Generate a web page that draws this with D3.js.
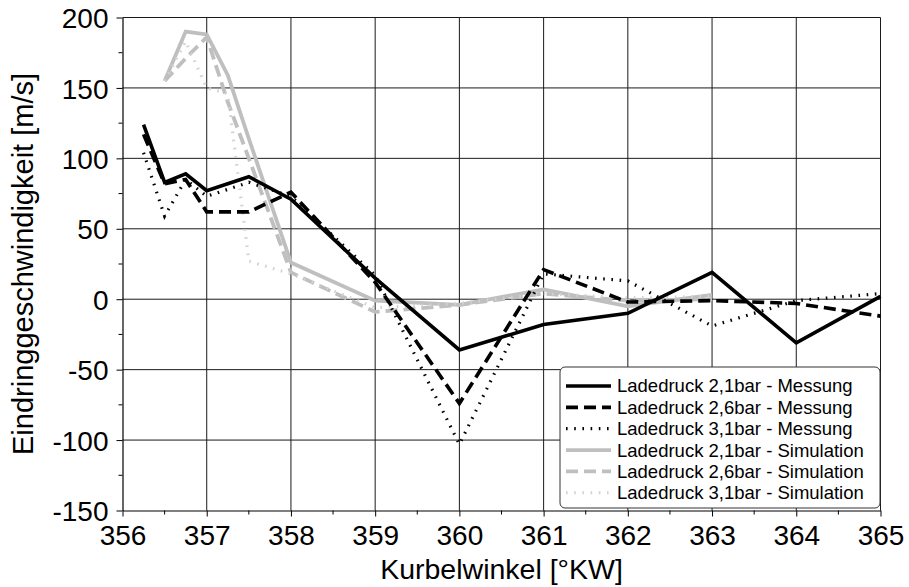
<!DOCTYPE html>
<html>
<head>
<meta charset="utf-8">
<script src="https://cdn.jsdelivr.net/npm/d3@7"></script>
<style>
  html, body { margin: 0; padding: 0; background: #fff; }
  svg { display: block; font-family: Arial, "Liberation Sans", Helvetica, sans-serif; }
</style>
</head>
<body>
<svg id="chart" width="909" height="587"></svg>
<script>
// Crank angle positions of the samples
const angleMess = [356.25, 356.5, 356.75, 357, 357.5, 358, 359, 360, 361, 362, 363, 364, 365];
const angleSim  = [356.5, 356.75, 357, 357.25, 357.5, 358, 359, 360, 361, 362, 363];

// Penetration velocity [m/s] – measurements
const mess21 = [124, 83, 89, 77, 87, 71, 15, -36, -18, -10, 19, -31, 2];
const mess26 = [117, 82, 85, 62, 62, 76, 12, -74, 21, -2, -1, -3, -12];
const mess31 = [104, 59, 85, 73, 83, 73, 17, -103, 18, 13, -19, -1, 4];

// Penetration velocity [m/s] – simulation
const sim21 = [155, 190, 188, 159, 114, 26, -1, -4, 7, -5, 3];
const sim26 = [155, 171, 186, 140, 100, 19, -9, -4, 4, -1, 0];
const sim31 = [155, 183, 150, 146, 27, 18, -6, -3, 4, 1, 2];

const seriesNames = [
  "Ladedruck 2,1bar - Messung",
  "Ladedruck 2,6bar - Messung",
  "Ladedruck 3,1bar - Messung",
  "Ladedruck 2,1bar - Simulation",
  "Ladedruck 2,6bar - Simulation",
  "Ladedruck 3,1bar - Simulation"
];

const xTicks = [356, 357, 358, 359, 360, 361, 362, 363, 364, 365];
const yTicks = [-150, -100, -50, 0, 50, 100, 150, 200];

const xLabel = "Kurbelwinkel [°KW]";
const yLabel = "Eindringgeschwindigkeit [m/s]";

// Line styles per series
const styles = [
  { color: "#000000", width: 3.6, dash: null },
  { color: "#000000", width: 3.6, dash: "12,6" },
  { color: "#000000", width: 3.2, dash: "1.6,6.6" },
  { color: "#bfbfbf", width: 3.8, dash: null },
  { color: "#bfbfbf", width: 3.8, dash: "12,6" },
  { color: "#d2d2d2", width: 3.2, dash: "1.6,6.6" }
];

const series = [
  { x: angleMess, y: mess21 },
  { x: angleMess, y: mess26 },
  { x: angleMess, y: mess31 },
  { x: angleSim,  y: sim21 },
  { x: angleSim,  y: sim26 },
  { x: angleSim,  y: sim31 }
];

const svg = d3.select("#chart");
const plotL = 122.5, plotR = 880.5, plotT = 17.5, plotB = 510.5;

const x = d3.scaleLinear().domain([356, 365]).range([plotL, plotR]);
const y = d3.scaleLinear().domain([-150, 200]).range([plotB, plotT]);

// plain hyphen-minus for negative labels
const fmt = d => String(d);

// Grid
const grid = svg.append("g").attr("stroke", "#1a1a1a").attr("stroke-width", 1);
grid.selectAll("line.v").data(xTicks.slice(1)).join("line")
  .attr("class", "v")
  .attr("x1", d => x(d)).attr("x2", d => x(d))
  .attr("y1", plotT).attr("y2", plotB);
grid.selectAll("line.h").data(yTicks.slice(1)).join("line")
  .attr("class", "h")
  .attr("x1", plotL).attr("x2", plotR)
  .attr("y1", d => y(d)).attr("y2", d => y(d));

// Axes
const xAxis = d3.axisBottom(x).tickValues(xTicks).tickFormat(fmt).tickSize(6).tickSizeOuter(0);
const yAxis = d3.axisLeft(y).tickValues(yTicks).tickFormat(fmt).tickSize(6).tickSizeOuter(0);

const gx = svg.append("g").attr("transform", `translate(0,${plotB})`).call(xAxis);
const gy = svg.append("g").attr("transform", `translate(${plotL},0)`).call(yAxis);

[gx, gy].forEach(g => {
  g.select(".domain").attr("stroke", "#000").attr("stroke-width", 1.2);
  g.selectAll(".tick line").attr("stroke", "#000").attr("stroke-width", 1);
  g.selectAll(".tick text").attr("fill", "#000").attr("font-size", 28)
    .attr("font-family", "Arial, 'Liberation Sans', sans-serif");
});
gx.selectAll(".tick text").attr("dy", null).attr("y", 34);
gy.selectAll(".tick text").attr("x", -14).attr("dy", "0.36em");

// Minor ticks
const xMinor = d3.range(356.5, 365, 1);
const yMinor = d3.range(-125, 200, 50);
svg.append("g").selectAll("line").data(xMinor).join("line")
  .attr("x1", d => x(d)).attr("x2", d => x(d))
  .attr("y1", plotB).attr("y2", plotB + 4)
  .attr("stroke", "#000");
svg.append("g").selectAll("line").data(yMinor).join("line")
  .attr("x1", plotL - 4).attr("x2", plotL)
  .attr("y1", d => y(d)).attr("y2", d => y(d))
  .attr("stroke", "#000");

// Axis titles
svg.append("text")
  .attr("x", (plotL + plotR) / 2).attr("y", 579)
  .attr("text-anchor", "middle").attr("font-size", 28.5).attr("fill", "#000")
  .text(xLabel);
svg.append("text")
  .attr("transform", `translate(33,${(plotT + plotB) / 2}) rotate(-90)`)
  .attr("text-anchor", "middle").attr("font-size", 29).attr("fill", "#000")
  .text(yLabel);

// Data lines (simulation drawn first, measurements on top)
const line = d3.line().x(d => x(d[0])).y(d => y(d[1]));
const order = [3, 4, 5, 0, 1, 2];
const plot = svg.append("g");
order.forEach(i => {
  const s = series[i], st = styles[i];
  const pts = s.x.map((v, k) => [v, s.y[k]]);
  plot.append("path")
    .attr("d", line(pts))
    .attr("fill", "none")
    .attr("stroke", st.color)
    .attr("stroke-width", st.width)
    .attr("stroke-linejoin", "miter")
    .attr("stroke-dasharray", st.dash);
});

// Legend
const lg = svg.append("g");
lg.append("rect")
  .attr("x", 560).attr("y", 367).attr("width", 320).attr("height", 141)
  .attr("rx", 5).attr("ry", 5)
  .attr("fill", "#fff").attr("stroke", "#333").attr("stroke-width", 1);
seriesNames.forEach((name, i) => {
  const cy = 386 + i * 21.35;
  const st = styles[i];
  lg.append("line")
    .attr("x1", 566).attr("x2", 611).attr("y1", cy).attr("y2", cy)
    .attr("stroke", st.color).attr("stroke-width", st.width)
    .attr("stroke-dasharray", st.dash);
  lg.append("text")
    .attr("x", 617).attr("y", cy).attr("dy", "0.35em")
    .attr("font-size", 18.5).attr("fill", "#000")
    .text(name);
});
</script>
</body>
</html>
